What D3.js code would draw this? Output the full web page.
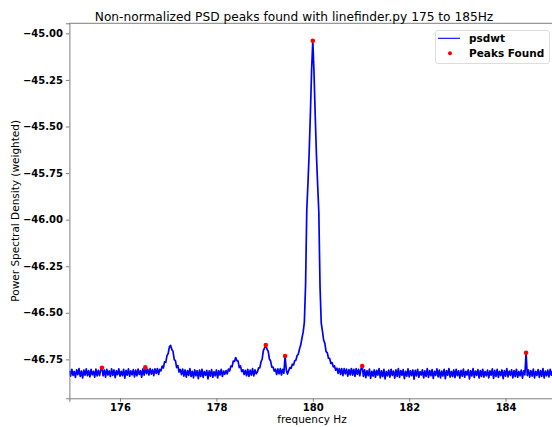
<!DOCTYPE html>
<html>
<head>
<meta charset="utf-8">
<script src="https://cdn.jsdelivr.net/npm/d3@7"></script>
<style>
  body { margin: 0; background: #fff; }
  svg { display: block; font-family: "DejaVu Sans", sans-serif; }
</style>
</head>
<body>
<div id="chart"></div>
<script>
// psd samples on a regular frequency grid (Hz)
var freqStart = 174.95;
var freqStep = 0.025;
var psdwt = [
  -46.811, -46.840, -46.803, -46.836, -46.815, -46.847, -46.806, -46.832, -46.800, -46.841, -46.813, -46.850, -46.807, -46.835,
  -46.801, -46.838, -46.810, -46.844, -46.804, -46.833, -46.814, -46.846, -46.802, -46.839, -46.809, -46.837, -46.805,
  -46.795,
  -46.838, -46.808, -46.845, -46.803, -46.834, -46.812, -46.842, -46.801, -46.836, -46.807, -46.848, -46.811, -46.832, -46.801,
  -46.840, -46.814, -46.837, -46.804, -46.851, -46.809, -46.835, -46.801, -46.841, -46.812, -46.833, -46.805, -46.844, -46.808,
  -46.838, -46.802, -46.831, -46.811, -46.846, -46.801, -46.835,
  -46.793,
  -46.827, -46.803, -46.834, -46.800, -46.829, -46.805, -46.837, -46.801, -46.825, -46.799, -46.831,
  // bump near 177.05
  -46.804, -46.812, -46.786, -46.796, -46.763, -46.766, -46.730, -46.718, -46.683, -46.675, -46.697, -46.707, -46.751, -46.757,
  -46.794, -46.784, -46.818, -46.804,
  -46.832, -46.802, -46.840, -46.807, -46.845, -46.810, -46.836, -46.800, -46.842, -46.814, -46.849, -46.806, -46.838, -46.811,
  -46.853, -46.808, -46.841, -46.803, -46.847, -46.815, -46.835, -46.809, -46.855, -46.812, -46.840, -46.805, -46.846, -46.816,
  -46.838, -46.807, -46.850, -46.811, -46.834, -46.804, -46.842, -46.813, -46.830,
  // bump near 178.4
  -46.810, -46.828, -46.802, -46.812, -46.786, -46.790, -46.759, -46.761, -46.740, -46.757, -46.759, -46.794, -46.785, -46.816,
  -46.806, -46.831,
  -46.809, -46.838, -46.803, -46.841, -46.808, -46.834, -46.800, -46.839, -46.806, -46.827,
  // bump near 179.03
  -46.818, -46.796, -46.796, -46.764, -46.748, -46.702, -46.689, -46.673, -46.695, -46.707, -46.748, -46.759, -46.792, -46.791,
  -46.813, -46.803,
  -46.831, -46.801, -46.827, -46.800, -46.834, -46.803, -46.824,
  -46.732,
  -46.807, -46.829,
  // main line at 180 Hz
  -46.810, -46.794, -46.798, -46.776, -46.780, -46.757, -46.754, -46.729, -46.722, -46.693, -46.672, -46.636, -46.604, -46.550,
  -46.350, -45.950, -45.800, -45.640, -45.430, -45.200, -45.040, -45.210, -45.440, -45.650, -45.810, -45.960, -46.360, -46.556,
  -46.598, -46.646, -46.664, -46.708, -46.714, -46.744, -46.745, -46.772, -46.767, -46.790, -46.785, -46.808, -46.797,
  -46.825, -46.799, -46.831, -46.800, -46.837, -46.800, -46.828, -46.802, -46.840, -46.805, -46.833, -46.799, -46.835, -46.803,
  -46.841, -46.800, -46.830, -46.804, -46.838, -46.801,
  -46.786,
  -46.841, -46.806, -46.848, -46.811, -46.837, -46.802, -46.852, -46.814, -46.840, -46.807, -46.846, -46.809, -46.834, -46.800, -46.849,
  -46.812, -46.842, -46.804, -46.855, -46.815, -46.838, -46.808, -46.845, -46.803, -46.836, -46.813, -46.851, -46.806, -46.841, -46.800,
  -46.847, -46.810, -46.835, -46.805, -46.853, -46.814, -46.840, -46.801, -46.844, -46.811, -46.837, -46.807, -46.856, -46.809, -46.839,
  -46.803, -46.846, -46.816, -46.834, -46.806, -46.850, -46.812, -46.841, -46.800, -46.847, -46.810, -46.838, -46.805, -46.852, -46.814,
  -46.836, -46.801, -46.844, -46.808, -46.849, -46.813, -46.839, -46.804, -46.854, -46.811, -46.835, -46.799, -46.845, -46.815, -46.842,
  -46.807, -46.848, -46.803, -46.837, -46.812, -46.851, -46.809, -46.840, -46.802, -46.846, -46.814, -46.834, -46.806, -46.855, -46.811,
  -46.839, -46.800, -46.847, -46.813, -46.836, -46.805, -46.850, -46.810, -46.842, -46.803, -46.845, -46.815, -46.838, -46.808, -46.849,
  -46.812, -46.835, -46.801, -46.852, -46.809, -46.841, -46.804, -46.847, -46.814, -46.837, -46.807, -46.853, -46.811, -46.840, -46.800,
  -46.844, -46.813, -46.836, -46.806, -46.849, -46.810, -46.842, -46.803, -46.846, -46.815, -46.838, -46.808, -46.851, -46.812, -46.833,
  -46.715,
  -46.837, -46.807, -46.845, -46.811, -46.840, -46.802, -46.849, -46.814, -46.836, -46.805, -46.847, -46.810, -46.841, -46.800,
  -46.850, -46.813, -46.838, -46.808, -46.844, -46.804, -46.835, -46.812, -46.848, -46.807, -46.839
];

// peaks found by linefinder
var peakFreqs = [175.625, 176.525, 179.025, 179.425, 180.0, 181.025, 184.425];
var peakVals = [-46.795, -46.793, -46.673, -46.732, -45.04, -46.786, -46.715];

var xTicks = [176, 178, 180, 182, 184];
var yTicks = [-45.00, -45.25, -45.50, -45.75, -46.00, -46.25, -46.50, -46.75];

var w = 552;
var h = 427;
var plotL = 69.4, plotR = 556.2, plotT = 23.3, plotB = 398.3;

var svg = d3.select("#chart")
    .append("svg")
    .attr("width", w)
    .attr("height", h);

var x = d3.scaleLinear().domain([174.95, 185.05]).range([plotL, plotR]);
var y = d3.scaleLinear().domain([-46.959, -44.946]).range([plotB, plotT]);

var data = psdwt.map(function (v, i) {
    return { f: freqStart + i * freqStep, v: v };
});

svg.append("clipPath")
    .attr("id", "plotclip")
    .append("rect")
    .attr("x", plotL)
    .attr("y", plotT)
    .attr("width", plotR - plotL)
    .attr("height", plotB - plotT);

var line = d3.line()
    .x(function (d) { return x(d.f); })
    .y(function (d) { return y(d.v); });

svg.append("path")
    .datum(data)
    .attr("clip-path", "url(#plotclip)")
    .attr("fill", "none")
    .attr("stroke", "#0000ff")
    .attr("stroke-width", 1.7)
    .attr("stroke-linejoin", "round")
    .attr("d", line);

svg.selectAll(".peak")
    .data(peakFreqs)
    .enter()
    .append("circle")
    .attr("class", "peak")
    .attr("cx", function (d) { return x(d); })
    .attr("cy", function (d, i) { return y(peakVals[i]); })
    .attr("r", 2.3)
    .attr("fill", "#ff0000");

// axes
var xAxis = svg.append("g")
    .attr("transform", "translate(0," + plotB + ")")
    .call(d3.axisBottom(x).tickValues(xTicks).tickSize(3.5).tickPadding(1.8).tickFormat(d3.format("d")));
var yAxis = svg.append("g")
    .attr("transform", "translate(" + plotL + ",0)")
    .call(d3.axisLeft(y).tickValues(yTicks).tickSize(3.5).tickPadding(3)
        .tickFormat(function (d) { return d3.format(".2f")(d).replace("-", "\u2212"); }));

[xAxis, yAxis].forEach(function (a) {
    a.selectAll("path, line").attr("stroke", "#707070").attr("stroke-width", 0.9);
    a.selectAll("text")
        .attr("fill", "#000")
        .style("font-family", "DejaVu Sans")
        .style("font-weight", "bold")
        .style("font-size", "10px");
});

// top spine
svg.append("line")
    .attr("x1", plotL).attr("x2", plotR)
    .attr("y1", plotT).attr("y2", plotT)
    .attr("stroke", "#707070")
    .attr("stroke-width", 0.9);

// title and labels
svg.append("text")
    .attr("x", 294)
    .attr("y", 20.5)
    .attr("text-anchor", "middle")
    .style("font-size", "12.2px")
    .text("Non-normalized PSD peaks found with linefinder.py 175 to 185Hz");

svg.append("text")
    .attr("x", 312)
    .attr("y", 422.5)
    .attr("text-anchor", "middle")
    .style("font-size", "10.5px")
    .text("frequency Hz");

svg.append("text")
    .attr("transform", "translate(19," + ((plotT + plotB) / 2) + ") rotate(-90)")
    .attr("text-anchor", "middle")
    .style("font-size", "10.5px")
    .text("Power Spectral Density (weighted)");

// legend
var lg = svg.append("g").attr("transform", "translate(435,30)");
lg.append("rect")
    .attr("x", 0.5).attr("y", 0.5)
    .attr("width", 114).attr("height", 33)
    .attr("rx", 2.5)
    .attr("fill", "#fff")
    .attr("fill-opacity", 0.8)
    .attr("stroke", "#dddddd");
lg.append("line")
    .attr("x1", 3).attr("x2", 25)
    .attr("y1", 8.3).attr("y2", 8.3)
    .attr("stroke", "#0000ff")
    .attr("stroke-width", 1.1);
lg.append("circle")
    .attr("cx", 15).attr("cy", 23.3)
    .attr("r", 2)
    .attr("fill", "#ff0000");
lg.selectAll(".ltext")
    .data(["psdwt", "Peaks Found"])
    .enter()
    .append("text")
    .attr("class", "ltext")
    .attr("x", 34)
    .attr("y", function (d, i) { return 12 + i * 15; })
    .style("font-weight", "bold")
    .style("font-size", "10.5px")
    .text(function (d) { return d; });
</script>
</body>
</html>
